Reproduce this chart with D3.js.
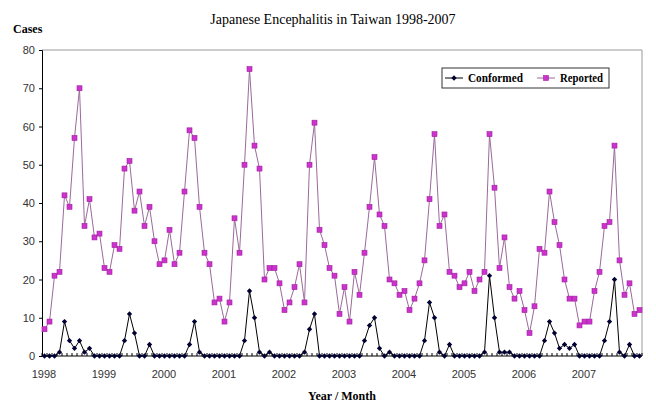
<!DOCTYPE html>
<html><head><meta charset="utf-8">
<script src="https://cdn.jsdelivr.net/npm/d3@7"></script>
<style>body{margin:0;background:#fff}svg{display:block}</style>
</head><body>
<svg id="c" width="656" height="415"></svg>
<script>
const years = [1998,1999,2000,2001,2002,2003,2004,2005,2006,2007];
const yTicks = [0,10,20,30,40,50,60,70,80];
const reported = [
  7,9,21,22,42,39,57,70,34,41,31,32,
  23,22,29,28,49,51,38,43,34,39,30,24,
  25,33,24,27,43,59,57,39,27,24,14,15,
  9,14,36,27,50,75,55,49,20,23,23,19,
  12,14,18,24,14,50,61,33,29,23,21,11,
  18,9,22,16,27,39,52,37,34,20,19,16,
  17,12,15,19,25,41,58,34,37,22,21,18,
  19,22,17,20,22,58,44,23,31,18,15,17,
  12,6,13,28,27,43,35,29,20,15,15,8,
  9,9,17,22,34,35,55,25,16,19,11,12
];
const conformed = [
  0,0,0,1,9,4,2,4,1,2,0,0,
  0,0,0,0,4,11,6,0,0,3,0,0,
  0,0,0,0,0,3,9,1,0,0,0,0,
  0,0,0,0,4,17,10,1,0,1,0,0,
  0,0,0,0,1,7,11,0,0,0,0,0,
  0,0,0,0,4,8,10,2,0,1,0,0,
  0,0,0,0,4,14,10,1,0,3,0,0,
  0,0,0,0,1,21,10,1,1,1,0,0,
  0,0,0,0,4,9,6,2,3,2,3,0,
  0,0,0,0,4,9,20,1,0,3,0,0
];
const months = d3.range(reported.length);

const svg = d3.select('#c');
const L=42, R=642, T=50, B=356;
const x = d3.scaleBand().domain(months).range([L,R]);
const y = d3.scaleLinear().domain([0,80]).range([B,T]);
const cx = i => x(i) + x.bandwidth()/2;

const serif = "'Liberation Serif','DejaVu Serif',serif";
const sans = "'Liberation Sans',Arial,sans-serif";

// frame
svg.append('path').attr('d',`M${L},${T}H${R}V${B}`).attr('fill','none').attr('stroke','#999').attr('stroke-width',1);

// y axis
const ya = svg.append('g').attr('transform',`translate(${L},0)`)
  .call(d3.axisLeft(y).tickValues(yTicks).tickSize(3).tickPadding(4));
ya.select('.domain').attr('stroke','#000');
ya.selectAll('line').attr('stroke','#000');
ya.selectAll('text').attr('font-family',sans).attr('font-size',11).attr('fill','#333');

// x axis with month ticks pointing inside
const xa = svg.append('g').attr('transform',`translate(0,${B})`);
xa.append('line').attr('x1',L).attr('x2',R).attr('stroke','#000');
xa.selectAll('line.t').data(d3.range(reported.length+1)).join('line')
  .attr('class','t')
  .attr('x1',i=> i<reported.length ? x(i) : R).attr('x2',i=> i<reported.length ? x(i) : R)
  .attr('y1',0).attr('y2',-3).attr('stroke','#000');
xa.selectAll('text').data(years).join('text')
  .attr('x',(d,k)=>x(k*12)+2).attr('y',22)
  .attr('text-anchor','middle').attr('font-family',sans).attr('font-size',11).attr('fill','#333')
  .text(d=>d);

// lines
const line = arr => d3.line().x((d,i)=>cx(i)).y(d=>y(d))(arr);
svg.append('path').attr('d',line(reported)).attr('fill','none').attr('stroke','#9a6a9a').attr('stroke-width',1);
svg.append('path').attr('d',line(conformed)).attr('fill','none').attr('stroke','#000').attr('stroke-width',1);

// markers
svg.append('g').selectAll('rect').data(reported).join('rect')
  .attr('x',(d,i)=>cx(i)-2.5).attr('y',d=>y(d)-2.5).attr('width',5).attr('height',5)
  .attr('fill','#cc33cc').attr('stroke','#a020a0').attr('stroke-width',0.6);
const diamond = d3.symbol().type(d3.symbolDiamond2).size(18);
svg.append('g').selectAll('path').data(conformed).join('path')
  .attr('transform',(d,i)=>`translate(${cx(i)},${y(d)})`).attr('d',diamond)
  .attr('fill','#000033');

// title & labels
svg.append('text').attr('x',333).attr('y',24).attr('text-anchor','middle')
  .attr('font-family',serif).attr('font-size',14).attr('fill','#000')
  .text('Japanese Encephalitis in Taiwan 1998-2007');
svg.append('text').attr('x',13).attr('y',33)
  .attr('font-family',serif).attr('font-size',12).attr('font-weight','bold').attr('fill','#000')
  .text('Cases');
svg.append('text').attr('x',342).attr('y',400).attr('text-anchor','middle')
  .attr('font-family',serif).attr('font-size',12).attr('font-weight','bold').attr('fill','#000')
  .text('Year / Month');

// legend
const lg = svg.append('g');
lg.append('rect').attr('x',442).attr('y',68).attr('width',167).attr('height',20)
  .attr('fill','#fff').attr('stroke','#333').attr('stroke-width',1);
lg.append('line').attr('x1',445).attr('x2',463).attr('y1',78).attr('y2',78).attr('stroke','#000');
lg.append('path').attr('transform','translate(454,78)').attr('d',diamond).attr('fill','#000033');
lg.append('text').attr('x',468).attr('y',82).attr('font-family',serif).attr('font-size',12)
  .attr('font-weight','bold').attr('textLength',55).attr('lengthAdjust','spacingAndGlyphs').text('Conformed');
lg.append('line').attr('x1',537).attr('x2',555).attr('y1',78).attr('y2',78).attr('stroke','#9a6a9a');
lg.append('rect').attr('x',543.5).attr('y',75.5).attr('width',5).attr('height',5)
  .attr('fill','#cc33cc').attr('stroke','#a020a0').attr('stroke-width',0.6);
lg.append('text').attr('x',560).attr('y',82).attr('font-family',serif).attr('font-size',12)
  .attr('font-weight','bold').attr('textLength',43).attr('lengthAdjust','spacingAndGlyphs').text('Reported');
</script>
</body></html>
